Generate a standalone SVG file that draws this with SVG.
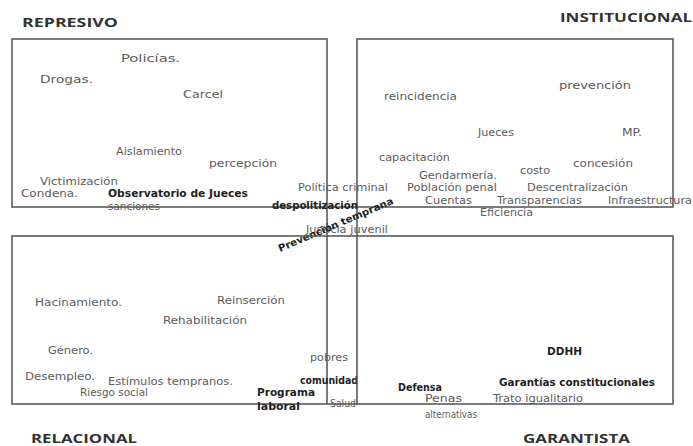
<svg xmlns="http://www.w3.org/2000/svg" width="693" height="446" viewBox="0 0 693 446">
<style>
.box{fill:none;stroke:#5a5a5a;stroke-width:1.6}
.gl{stroke:#444;stroke-width:1.4;fill:none}
.t{font-family:"DejaVu Sans","Liberation Sans",sans-serif;font-size:10px;fill:#5c5c5c}
.b{font-family:"DejaVu Sans","Liberation Sans",sans-serif;font-size:10px;fill:#222;font-weight:bold}
.h{font-family:"Open Sans","Liberation Sans",sans-serif;font-size:13px;fill:#333;font-weight:bold}
</style>
<rect width="693" height="446" fill="#fff"/>
<g id="grid-lines">
<line class="gl" x1="327" y1="207" x2="357" y2="207"/>
<line class="gl" x1="327" y1="236" x2="357" y2="236"/>
<line class="gl" x1="327" y1="207" x2="327" y2="236"/>
<line class="gl" x1="357" y1="207" x2="357" y2="236"/>
<line class="gl" x1="327" y1="404" x2="357" y2="404"/>
</g>
<g id="represivo">
<rect class="box" x="12" y="39" width="315" height="168"/>
<text class="h" x="22" y="27" textLength="96" lengthAdjust="spacingAndGlyphs">REPRESIVO</text>
<text class="t" x="121" y="62" textLength="59" lengthAdjust="spacingAndGlyphs">Policías.</text>
<text class="t" x="40" y="83" textLength="53" lengthAdjust="spacingAndGlyphs">Drogas.</text>
<text class="t" x="183" y="98" textLength="40" lengthAdjust="spacingAndGlyphs">Carcel</text>
<text class="t" x="116" y="155" textLength="66" lengthAdjust="spacingAndGlyphs">Aislamiento</text>
<text class="t" x="209" y="167" textLength="68" lengthAdjust="spacingAndGlyphs">percepción</text>
<text class="t" x="40" y="185" textLength="78" lengthAdjust="spacingAndGlyphs">Victimización</text>
<text class="t" x="21" y="197" textLength="57" lengthAdjust="spacingAndGlyphs">Condena.</text>
<text class="b" x="108" y="197" textLength="140" lengthAdjust="spacingAndGlyphs">Observatorio de Jueces</text>
<text class="t" x="108" y="210" textLength="52" lengthAdjust="spacingAndGlyphs">sanciones</text>
</g>
<g id="institucional">
<rect class="box" x="357" y="39" width="316" height="168"/>
<text class="h" x="560" y="22" textLength="132" lengthAdjust="spacingAndGlyphs">INSTITUCIONAL</text>
<text class="t" x="384" y="100" textLength="73" lengthAdjust="spacingAndGlyphs">reincidencia</text>
<text class="t" x="559" y="89" textLength="72" lengthAdjust="spacingAndGlyphs">prevención</text>
<text class="t" x="478" y="136" textLength="36" lengthAdjust="spacingAndGlyphs">Jueces</text>
<text class="t" x="622" y="136" textLength="20" lengthAdjust="spacingAndGlyphs">MP.</text>
<text class="t" x="379" y="161" textLength="71" lengthAdjust="spacingAndGlyphs">capacitación</text>
<text class="t" x="573" y="167" textLength="60" lengthAdjust="spacingAndGlyphs">concesión</text>
<text class="t" x="520" y="174" textLength="30" lengthAdjust="spacingAndGlyphs">costo</text>
<text class="t" x="419" y="179" textLength="78" lengthAdjust="spacingAndGlyphs">Gendarmería.</text>
<text class="t" x="407" y="191" textLength="90" lengthAdjust="spacingAndGlyphs">Población penal</text>
<text class="t" x="527" y="191" textLength="101" lengthAdjust="spacingAndGlyphs">Descentralización</text>
<text class="t" x="425" y="204" textLength="47" lengthAdjust="spacingAndGlyphs">Cuentas</text>
<text class="t" x="497" y="204" textLength="85" lengthAdjust="spacingAndGlyphs">Transparencias</text>
<text class="t" x="608" y="204" textLength="84" lengthAdjust="spacingAndGlyphs">Infraestructura</text>
<text class="t" x="480" y="216" textLength="53" lengthAdjust="spacingAndGlyphs">Eficiencia</text>
</g>
<g id="centro">
<text class="t" x="298" y="191" textLength="90" lengthAdjust="spacingAndGlyphs">Política criminal</text>
<text class="b" x="272" y="209" textLength="86" lengthAdjust="spacingAndGlyphs">despolitización</text>
<text class="t" x="306" y="233" textLength="82" lengthAdjust="spacingAndGlyphs">Justicia juvenil</text>
<text class="b" x="280" y="252" textLength="124" lengthAdjust="spacingAndGlyphs" transform="rotate(-23 280 252)">Prevención temprana</text>
</g>
<g id="relacional">
<rect class="box" x="12" y="236" width="315" height="168"/>
<text class="h" x="31" y="443" textLength="106" lengthAdjust="spacingAndGlyphs">RELACIONAL</text>
<text class="t" x="35" y="306" textLength="87" lengthAdjust="spacingAndGlyphs">Hacinamiento.</text>
<text class="t" x="217" y="304" textLength="68" lengthAdjust="spacingAndGlyphs">Reinserción</text>
<text class="t" x="163" y="324" textLength="84" lengthAdjust="spacingAndGlyphs">Rehabilitación</text>
<text class="t" x="48" y="354" textLength="45" lengthAdjust="spacingAndGlyphs">Género.</text>
<text class="t" x="310" y="361" textLength="38" lengthAdjust="spacingAndGlyphs">pobres</text>
<text class="t" x="25" y="380" textLength="70" lengthAdjust="spacingAndGlyphs">Desempleo.</text>
<text class="t" x="108" y="385" textLength="125" lengthAdjust="spacingAndGlyphs">Estímulos tempranos.</text>
<text class="b" x="300" y="384" textLength="58" lengthAdjust="spacingAndGlyphs">comunidad</text>
<text class="t" x="80" y="396" textLength="68" lengthAdjust="spacingAndGlyphs">Riesgo social</text>
<text class="b" x="257" y="396" textLength="58" lengthAdjust="spacingAndGlyphs">Programa</text>
<text class="b" x="257" y="410" textLength="43" lengthAdjust="spacingAndGlyphs">laboral</text>
<text class="t" x="330" y="407" textLength="26" lengthAdjust="spacingAndGlyphs">Salud</text>
</g>
<g id="garantista">
<rect class="box" x="357" y="236" width="316" height="168"/>
<text class="h" x="523" y="443" textLength="107" lengthAdjust="spacingAndGlyphs">GARANTISTA</text>
<text class="b" x="547" y="355" textLength="35" lengthAdjust="spacingAndGlyphs">DDHH</text>
<text class="b" x="398" y="391" textLength="44" lengthAdjust="spacingAndGlyphs">Defensa</text>
<text class="b" x="499" y="386" textLength="156" lengthAdjust="spacingAndGlyphs">Garantías constitucionales</text>
<text class="t" x="425" y="402" textLength="37" lengthAdjust="spacingAndGlyphs">Penas</text>
<text class="t" x="493" y="402" textLength="90" lengthAdjust="spacingAndGlyphs">Trato igualitario</text>
<text class="t" x="425" y="418" textLength="52" lengthAdjust="spacingAndGlyphs">alternativas</text>
</g>
</svg>
